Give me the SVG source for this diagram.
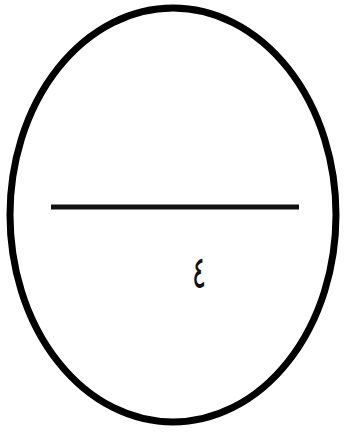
<svg xmlns="http://www.w3.org/2000/svg" width="346" height="433" viewBox="0 0 346 433">
<style>
.shape{fill:none;stroke:#000;stroke-width:7}
.bar{stroke:#111;stroke-width:5}
.lbl{font-family:"DejaVu Sans","Noto Sans",sans-serif;font-size:24px;fill:#111;text-anchor:middle}
</style>
<rect width="346" height="433" fill="#fff"/>
<g id="circle">
<ellipse class="shape" cx="173" cy="215" rx="163" ry="207"/>
</g>
<g id="divider">
<line class="bar" x1="51" y1="207" x2="299" y2="207"/>
</g>
<g id="label">
<text class="lbl" transform="translate(199,288) scale(1.1,1.9)">٤</text>
</g>
</svg>
